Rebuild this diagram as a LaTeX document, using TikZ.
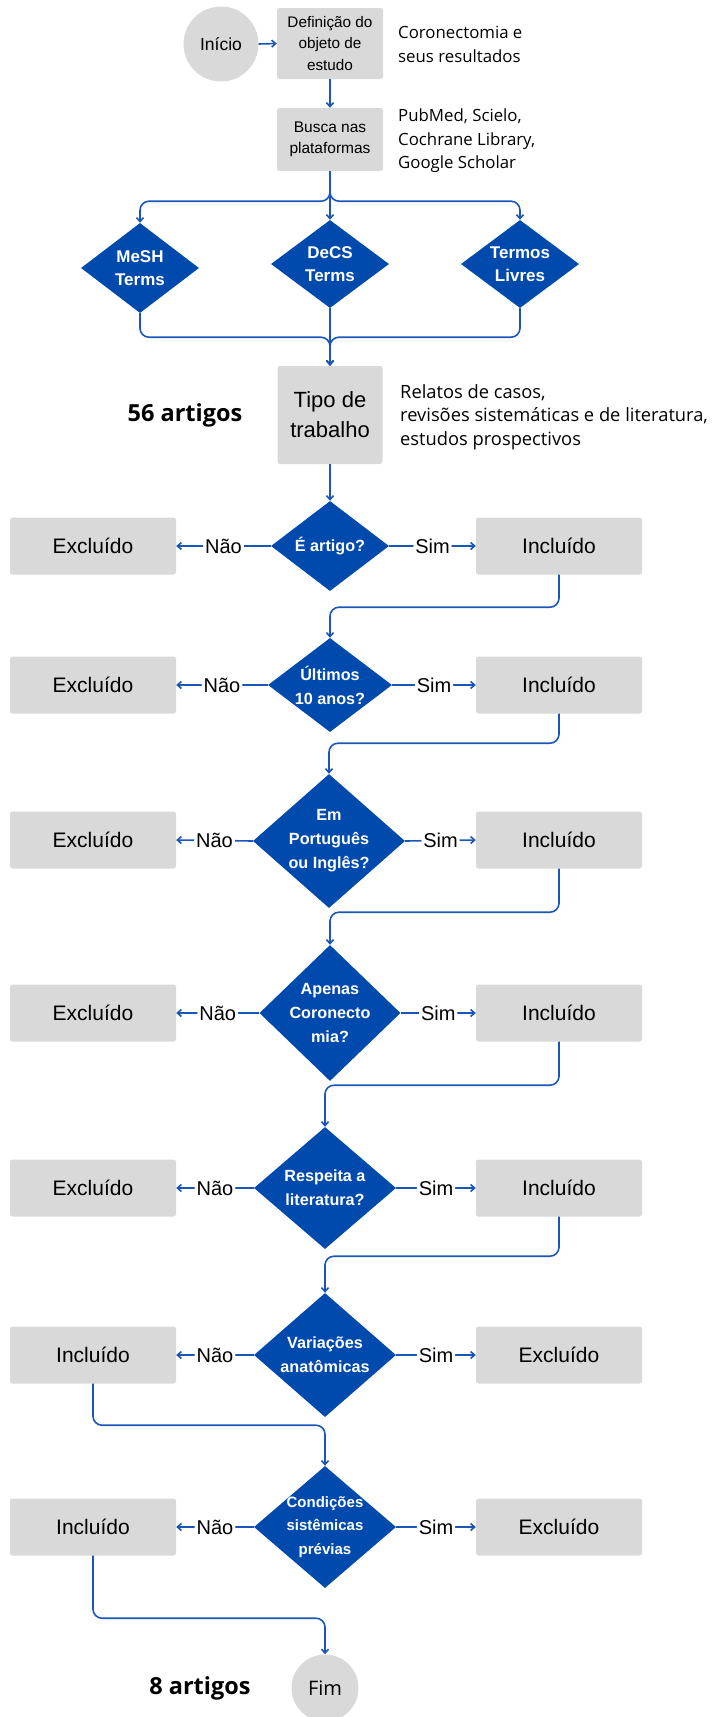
\documentclass[tikz,border=0pt]{standalone}
\usepackage{fontspec}
\setmainfont{Liberation Sans}
\newfontfamily\annotfont{Open Sans}
\usetikzlibrary{shapes.geometric,arrows.meta}
\definecolor{dblue}{HTML}{004AAD}
\definecolor{lblue}{HTML}{1A56B8}
\definecolor{boxgray}{HTML}{D9D9D9}
\begin{document}
\begin{tikzpicture}[x=1pt,y=-1pt,
  box/.style={rectangle, fill=boxgray, rounded corners=2.5pt, inner sep=0pt, align=center},
  rbox/.style={box, minimum width=166pt, minimum height=57pt, font=\fontsize{21}{25}\selectfont},
  diam/.style={diamond, fill=dblue, inner sep=0pt},
  dtext/.style={text=white, font=\fontsize{16.2}{24}\selectfont\bfseries, align=center, inner sep=0pt},
  conn/.style={draw=lblue, line width=1.6pt, rounded corners=9pt},
  arr/.style={conn, -{Straight Barb[length=4pt,width=7pt]}},
  lab/.style={fill=white, inner xsep=2pt, inner ysep=1pt, font=\fontsize{20}{24}\selectfont, text=black},
  circ/.style={circle, fill=boxgray, inner sep=0pt},
  annot/.style={anchor=west, align=left, inner sep=0pt, font=\annotfont\fontsize{16.8}{23.5}\selectfont},
  big/.style={inner sep=0pt, font=\annotfont\fontsize{23.5}{28}\selectfont\bfseries},
]
\useasboundingbox (0,0) rectangle (713,1717);

% --- top part
\node[circ, minimum size=75pt, font=\fontsize{17.5}{21}\selectfont] (inicio) at (221,44) {Início};
\node[box, minimum width=106pt, minimum height=71pt, font=\fontsize{15.3}{21.7}\selectfont] (def) at (330,43.5) {Definição do\\objeto de\\estudo};
\node[annot] (defn) at (398,44.5) {Coronectomia e\\seus resultados};
\node[box, minimum width=106pt, minimum height=63pt, font=\fontsize{15.5}{21}\selectfont] (busca) at (330,139.5) {Busca nas\\plataformas};
\node[annot] (buscan) at (398,141) {PubMed, Scielo,\\Cochrane Library,\\Google Scholar};

\node[diam, minimum width=118pt, minimum height=90pt] (mesh) at (140,268) {};
\node[dtext, font=\fontsize{17}{23.5}\selectfont\bfseries] (mesht) at (mesh) {MeSH\\Terms};
\node[diam, minimum width=118pt, minimum height=88pt] (decs) at (330,264) {};
\node[dtext, font=\fontsize{17}{23.5}\selectfont\bfseries] (decst) at (decs) {DeCS\\Terms};
\node[diam, minimum width=118pt, minimum height=88pt] (termos) at (520,264) {};
\node[dtext, font=\fontsize{17}{23.5}\selectfont\bfseries] (termost) at (termos) {Termos\\Livres};

\node[box, minimum width=105pt, minimum height=98pt, font=\fontsize{22}{30}\selectfont] (tipo) at (330,415) {Tipo de\\trabalho};
\node[big] (n56) at (185,415) {56 artigos};
\node[annot, font=\annotfont\fontsize{18.3}{23.5}\selectfont] (tipon) at (400,417) {Relatos de casos,\\revisões sistemáticas e de literatura,\\estudos prospectivos};

\draw[arr] (inicio.east) -- (def.west);
\draw[arr] (def.south) -- (busca.north);
\draw[arr] (busca.south) -- ++(0,30) -| (mesh.north);
\draw[arr] (busca.south) -- ++(0,30) -| (termos.north);
\draw[arr] (busca.south) -- (decs.north);
\draw[arr] (mesh.south) -- ++(0,24) -| (tipo.north);
\draw[arr] (termos.south) -- ++(0,29) -| (tipo.north);
\draw[arr] (decs.south) -- (tipo.north);

% --- rows
% row 1
\node[diam, minimum width=118pt, minimum height=90pt] (d1) at (330,546) {};
\node[dtext] (d1t) at (d1) {É artigo?};
\node[rbox] (l1) at (93,546) {Excluído};
\node[rbox] (r1) at (559,546) {Incluído};
% row 2
\node[diam, minimum width=124pt, minimum height=94pt] (d2) at (330,685) {};
\node[dtext] (d2t) at (d2) {Últimos\\10 anos?};
\node[rbox] (l2) at (93,685) {Excluído};
\node[rbox] (r2) at (559,685) {Incluído};
% row 3
\node[diam, minimum width=152pt, minimum height=134pt] (d3) at (329,841) {};
\node[dtext] (d3t) at (d3) {Em\\Português\\ou Inglês?};
\node[rbox] (l3) at (93,840) {Excluído};
\node[rbox] (r3) at (559,840) {Incluído};
% row 4
\node[diam, minimum width=141pt, minimum height=136pt] (d4) at (330,1013) {};
\node[dtext] (d4t) at (d4) {Apenas\\Coronecto\\mia?};
\node[rbox] (l4) at (93,1013) {Excluído};
\node[rbox] (r4) at (559,1013) {Incluído};
% row 5
\node[diam, minimum width=142pt, minimum height=122pt] (d5) at (325,1188) {};
\node[dtext] (d5t) at (d5) {Respeita a\\literatura?};
\node[rbox] (l5) at (93,1188) {Excluído};
\node[rbox] (r5) at (559,1188) {Incluído};
% row 6
\node[diam, minimum width=142pt, minimum height=124pt] (d6) at (325,1355) {};
\node[dtext] (d6t) at (d6) {Variações\\anatômicas};
\node[rbox] (l6) at (93,1355) {Incluído};
\node[rbox] (r6) at (559,1355) {Excluído};
% row 7
\node[diam, minimum width=142pt, minimum height=122pt] (d7) at (325,1527) {};
\node[dtext, font=\fontsize{15}{23.5}\selectfont\bfseries] (d7t) at (d7) {Condições\\sistêmicas\\prévias};
\node[rbox] (l7) at (93,1527) {Incluído};
\node[rbox] (r7) at (559,1527) {Excluído};

% end
\node[circ, minimum size=67pt, font=\annotfont\fontsize{20}{24}\selectfont] (fim) at (325,1688) {Fim};
\node[big] (n8) at (200,1688) {8 artigos};

% row connectors
\draw[arr] (tipo.south) -- (d1.north);
\foreach \i in {1,...,7}{
  \draw[arr] (d\i.west) -- node[lab]{Não} (l\i.east);
  \draw[arr] (d\i.east) -- node[lab]{Sim} (r\i.west);
}
\draw[arr] (r1.south) -- ++(0,32.5) -| (d2.north);
\draw[arr] (r2.south) -- ++(0,29.5) -| (d3.north);
\draw[arr] (r3.south) -- ++(0,43.5) -| (d4.north);
\draw[arr] (r4.south) -- ++(0,43.5) -| (d5.north);
\draw[arr] (r5.south) -- ++(0,39.5) -| (d6.north);
\draw[arr] (l6.south) -- ++(0,41.5) -| (d7.north);
\draw[arr] (l7.south) -- ++(0,62.5) -| (fim.north);
\end{tikzpicture}
\end{document}
